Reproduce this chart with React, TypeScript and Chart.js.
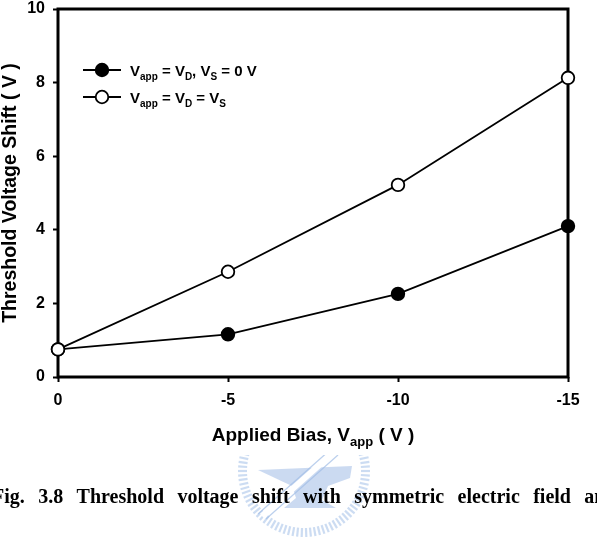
import React, { useEffect, useRef } from "react";
import { Chart, registerables } from "chart.js";

Chart.register(...registerables);

// ---- data ----
const biasValues = [0, -5, -10, -15];
const shiftDrainOnly = [0.75, 1.16, 2.26, 4.1]; // Vapp = VD, VS = 0 V (filled)
const shiftSymmetric = [0.75, 2.86, 5.22, 8.13]; // Vapp = VD = VS (open)
const xTickValues = [0, -5, -10, -15];
const xTickLabels = ["0", "-5", "-10", "-15"];
const yTickValues = [0, 2, 4, 6, 8, 10];
const yTickLabels = ["0", "2", "4", "6", "8", "10"];
const yTitle = "Threshold Voltage Shift ( V )";
const captionWords = ["Fig.", "3.8", "Threshold", "voltage", "shift", "with", "symmetric", "electric", "field", "an"];

const SANS = "'Liberation Sans', Arial, sans-serif";

type Part = { t: string; sub?: boolean };
const legendRows: { parts: Part[]; filled: boolean }[] = [
  {
    filled: true,
    parts: [{ t: "V" }, { t: "app", sub: true }, { t: " = V" }, { t: "D", sub: true }, { t: ", V" }, { t: "S", sub: true }, { t: " = 0 V" }],
  },
  {
    filled: false,
    parts: [{ t: "V" }, { t: "app", sub: true }, { t: " = V" }, { t: "D", sub: true }, { t: " = V" }, { t: "S", sub: true }],
  },
];
const xTitleParts: Part[] = [{ t: "Applied Bias, V" }, { t: "app", sub: true }, { t: " ( V )" }];

function drawParts(ctx: CanvasRenderingContext2D, parts: Part[], x: number, y: number, size: number, subSize: number, subDy: number, align: "left" | "center") {
  const widths = parts.map((p) => {
    ctx.font = `bold ${p.sub ? subSize : size}px ${SANS}`;
    return ctx.measureText(p.t).width;
  });
  const total = widths.reduce((a, b) => a + b, 0);
  let cx = align === "center" ? x - total / 2 : x;
  ctx.textAlign = "left";
  ctx.textBaseline = "alphabetic";
  ctx.fillStyle = "#000";
  parts.forEach((p, i) => {
    ctx.font = `bold ${p.sub ? subSize : size}px ${SANS}`;
    ctx.fillText(p.t, cx, p.sub ? y + subDy : y);
    cx += widths[i];
  });
}

const decorPlugin = {
  id: "decor",
  beforeDraw(chart: any) {
    const ctx = chart.ctx as CanvasRenderingContext2D;
    ctx.save();
    // faint emblem watermark behind caption
    ctx.beginPath();
    ctx.rect(0, 455, 597, 84);
    ctx.clip();
    const cx = 304, cy = 471;
    ctx.strokeStyle = "rgba(170,196,234,0.6)";
    ctx.lineWidth = 2.2;
    for (let i = 0; i < 90; i++) {
      const a = (i / 90) * Math.PI * 2;
      ctx.beginPath();
      ctx.moveTo(cx + Math.cos(a) * 57, cy + Math.sin(a) * 57);
      ctx.lineTo(cx + Math.cos(a) * 66, cy + Math.sin(a) * 66);
      ctx.stroke();
    }
    ctx.fillStyle = "rgba(160,188,230,0.55)";
    ctx.beginPath();
    ctx.moveTo(258, 470);
    ctx.lineTo(352, 466);
    ctx.lineTo(350, 478);
    ctx.lineTo(328, 486);
    ctx.lineTo(322, 500);
    ctx.lineTo(336, 508);
    ctx.lineTo(284, 508);
    ctx.lineTo(296, 498);
    ctx.lineTo(292, 486);
    ctx.closePath();
    ctx.fill();
    ctx.strokeStyle = "#fff";
    ctx.lineWidth = 6;
    ctx.beginPath();
    ctx.moveTo(334, 452);
    ctx.lineTo(262, 516);
    ctx.stroke();
    ctx.strokeStyle = "rgba(160,188,230,0.7)";
    ctx.lineWidth = 1.3;
    ctx.beginPath();
    ctx.moveTo(338, 455);
    ctx.lineTo(266, 519);
    ctx.moveTo(330, 450);
    ctx.lineTo(258, 514);
    ctx.stroke();
    ctx.restore();
  },
  beforeDatasetsDraw(chart: any) {
    const { ctx, chartArea: a } = chart;
    ctx.save();
    ctx.strokeStyle = "#000";
    ctx.lineWidth = 3;
    ctx.strokeRect(a.left, a.top, a.right - a.left, a.bottom - a.top);
    ctx.restore();
  },
  afterDraw(chart: any) {
    const ctx = chart.ctx as CanvasRenderingContext2D;
    const a = chart.chartArea;
    ctx.save();
    // legend
    const rowsY = [70, 97];
    legendRows.forEach((row, i) => {
      const y = rowsY[i];
      ctx.strokeStyle = "#000";
      ctx.lineWidth = 1.8;
      ctx.beginPath();
      ctx.moveTo(83, y);
      ctx.lineTo(121, y);
      ctx.stroke();
      ctx.beginPath();
      ctx.arc(102, y, 6.3, 0, Math.PI * 2);
      ctx.fillStyle = row.filled ? "#000" : "#fff";
      ctx.fill();
      ctx.stroke();
      drawParts(ctx, row.parts, 130, y + 5.5, 15, 10, 4, "left");
    });
    // x title
    drawParts(ctx, xTitleParts, (a.left + a.right) / 2, 441, 19, 13, 5, "center");
    // y title
    ctx.save();
    ctx.translate(16, (a.top + a.bottom) / 2);
    ctx.rotate(-Math.PI / 2);
    ctx.font = `bold 19.5px ${SANS}`;
    ctx.fillStyle = "#000";
    ctx.textAlign = "center";
    ctx.textBaseline = "alphabetic";
    ctx.fillText(yTitle, 0, 0);
    ctx.restore();
    ctx.restore();
  },
};

export default function App() {
  const ref = useRef<HTMLCanvasElement | null>(null);
  useEffect(() => {
    if (!ref.current) return;
    const toPts = (ys: number[]) => biasValues.map((x, i) => ({ x, y: ys[i] }));
    const chart = new Chart(ref.current, {
      type: "scatter",
      data: {
        datasets: [
          {
            label: "Vapp = VD = VS",
            data: toPts(shiftSymmetric),
            showLine: true,
            borderColor: "#000",
            borderWidth: 1.8,
            pointRadius: 6.3,
            pointBackgroundColor: "#fff",
            pointBorderColor: "#000",
            pointBorderWidth: 1.8,
            clip: false as any,
          },
          {
            label: "Vapp = VD, VS = 0 V",
            data: toPts(shiftDrainOnly),
            showLine: true,
            borderColor: "#000",
            borderWidth: 1.8,
            pointRadius: 6.3,
            pointBackgroundColor: "#000",
            pointBorderColor: "#000",
            pointBorderWidth: 1.8,
            clip: false as any,
          },
        ],
      },
      options: {
        animation: false,
        responsive: false,
        devicePixelRatio: 1,
        layout: { padding: { left: 0, top: 0, right: 29, bottom: 0 } },
        plugins: { legend: { display: false }, tooltip: { enabled: false }, title: { display: false } },
        scales: {
          x: {
            type: "linear",
            min: -15,
            max: 0,
            reverse: true,
            afterFit: (s: any) => {
              s.height = 162;
            },
            afterBuildTicks: (s: any) => {
              s.ticks = xTickValues.map((v) => ({ value: v }));
            },
            ticks: {
              callback: (v: any) => xTickLabels[xTickValues.indexOf(Number(v))] ?? "",
              font: { family: SANS, size: 16, weight: "bold" },
              color: "#000",
              padding: 9,
              maxRotation: 0,
            },
            grid: { display: true, drawOnChartArea: false, drawTicks: true, tickLength: 5, tickColor: "#000", tickWidth: 2, color: "#000" },
            border: { display: false },
          },
          y: {
            type: "linear",
            min: 0,
            max: 10,
            afterFit: (s: any) => {
              s.width = 58;
              s.paddingTop = 9;
              s.paddingBottom = 0;
            },
            afterBuildTicks: (s: any) => {
              s.ticks = yTickValues.map((v) => ({ value: v }));
            },
            ticks: {
              callback: (v: any) => yTickLabels[yTickValues.indexOf(Number(v))] ?? "",
              font: { family: SANS, size: 16, weight: "bold" },
              color: "#000",
              padding: 8,
            },
            grid: { display: true, drawOnChartArea: false, drawTicks: true, tickLength: 5, tickColor: "#000", tickWidth: 2, color: "#000" },
            border: { display: false },
          },
        },
      } as any,
      plugins: [decorPlugin],
    });
    return () => chart.destroy();
  }, []);

  return (
    <div style={{ position: "absolute", left: 0, top: 0, width: 597, height: 539, overflow: "hidden", background: "#fff" }}>
      <canvas ref={ref} width={597} height={539} style={{ position: "absolute", left: 0, top: 0, width: 597, height: 539 }} />
      <div
        style={{
          position: "absolute",
          left: -8,
          top: 486,
          display: "flex",
          gap: 13.4,
          fontFamily: "'Liberation Serif', 'Times New Roman', serif",
          fontWeight: "bold",
          fontSize: 20,
          lineHeight: "20px",
          whiteSpace: "nowrap",
          color: "#000",
        }}
      >
        {captionWords.map((w, i) => (
          <span key={i}>{w}</span>
        ))}
      </div>
    </div>
  );
}
